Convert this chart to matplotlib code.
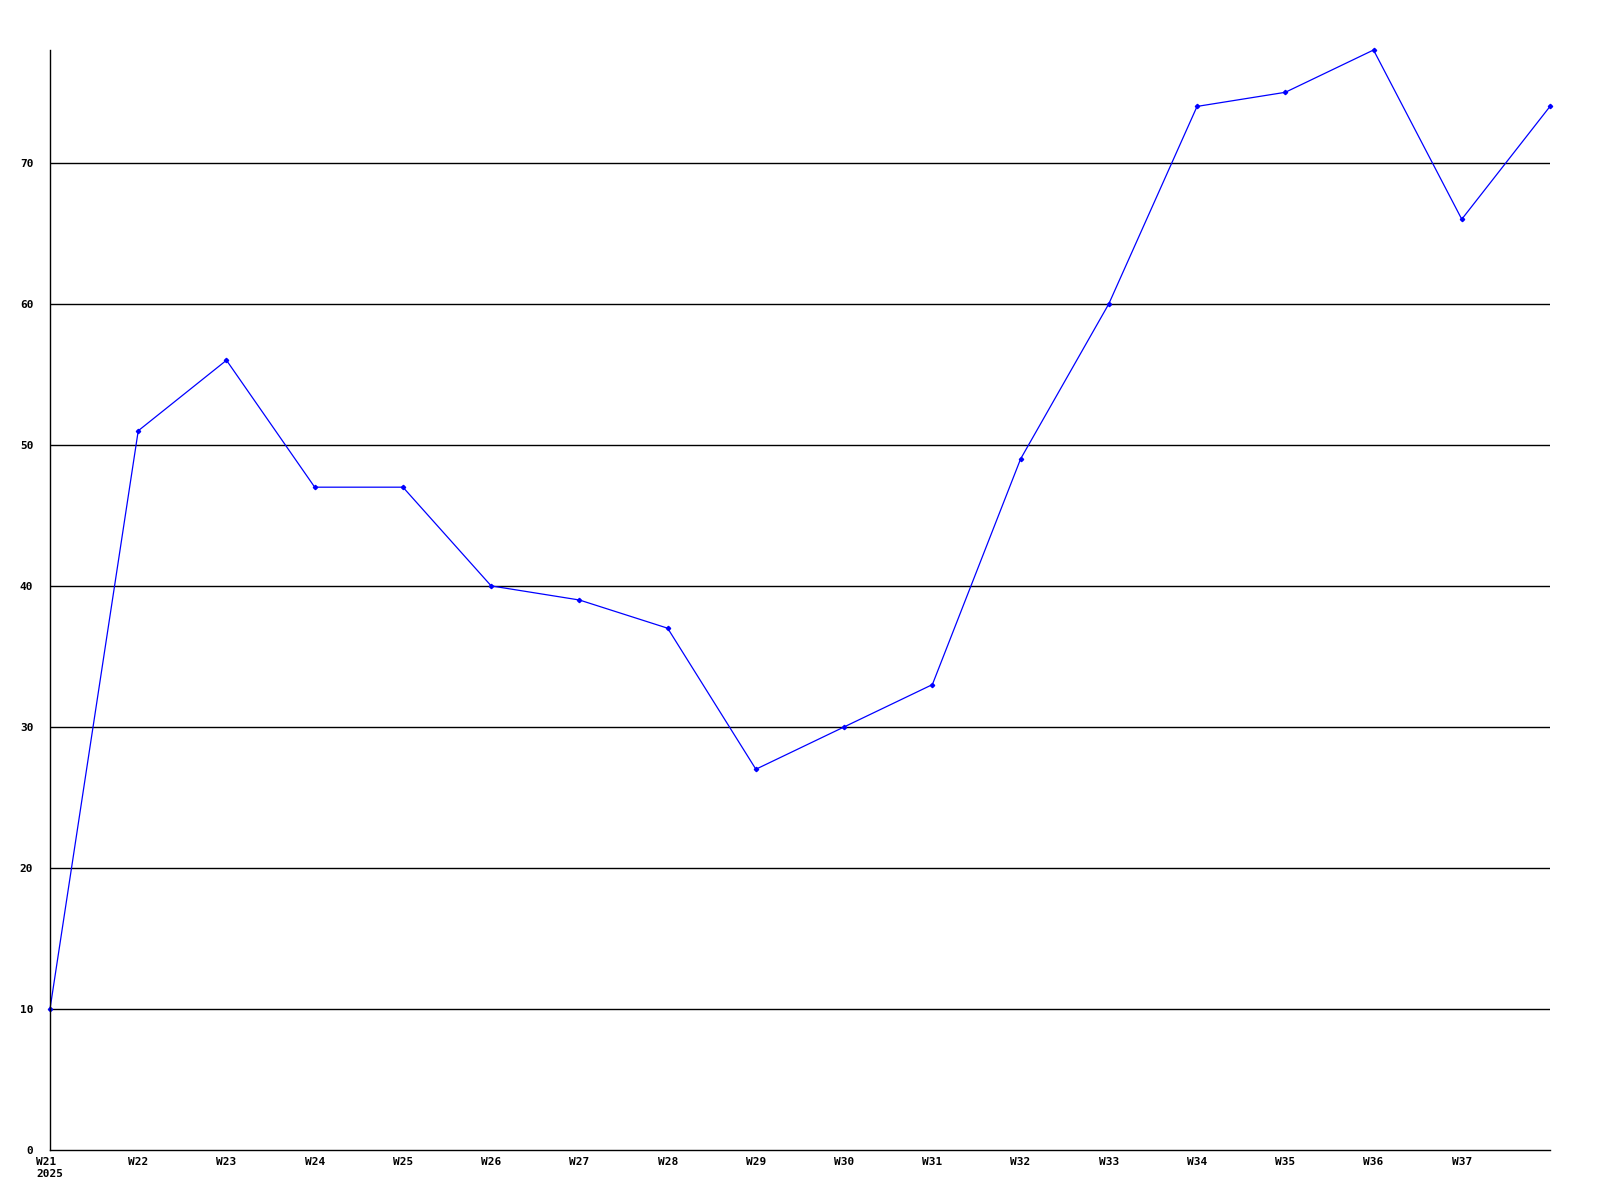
import numpy as np
import matplotlib.pyplot as plt

weeks = ["W21", "W22", "W23", "W24", "W25", "W26", "W27", "W28", "W29",
         "W30", "W31", "W32", "W33", "W34", "W35", "W36", "W37", "W38"]
values = [10, 51, 56, 47, 47, 40, 39, 37, 27, 30, 33, 49, 60, 74, 75, 78, 66, 74]
yticks = [0, 10, 20, 30, 40, 50, 60, 70]

fig = plt.figure(figsize=(16, 12), dpi=100)
ax = fig.add_axes([50 / 1600, 50 / 1200, 1500 / 1600, 1100 / 1200])

x = np.arange(len(values))
ax.plot(x, values, color="#0000ff", lw=0.9, marker="D", ms=2.2, clip_on=False)

ax.set_xlim(0, len(values) - 1)
ax.set_ylim(0, max(values))

for y in yticks[1:]:
    ax.axhline(y, color="black", lw=1, zorder=0)

for s in ["top", "right"]:
    ax.spines[s].set_visible(False)
for s in ["left", "bottom"]:
    ax.spines[s].set_linewidth(1)
    ax.spines[s].set_color("black")

font = dict(family="DejaVu Sans Mono", weight="bold", size=8)
labels = list(weeks[:-1])
labels[0] = "W21\n2025"
ax.set_xticks(x[:-1])
ax.set_xticklabels(labels, **font, ha="center", va="top", linespacing=1.25)
ax.set_yticks(yticks)
ax.set_yticklabels([str(v) for v in yticks], **font)
ax.tick_params(axis="both", length=0)
ax.tick_params(axis="x", pad=5)
ax.tick_params(axis="y", pad=12)
ax.get_xticklabels()[0].set_multialignment("left")

fig.savefig("out.png", dpi=100)
